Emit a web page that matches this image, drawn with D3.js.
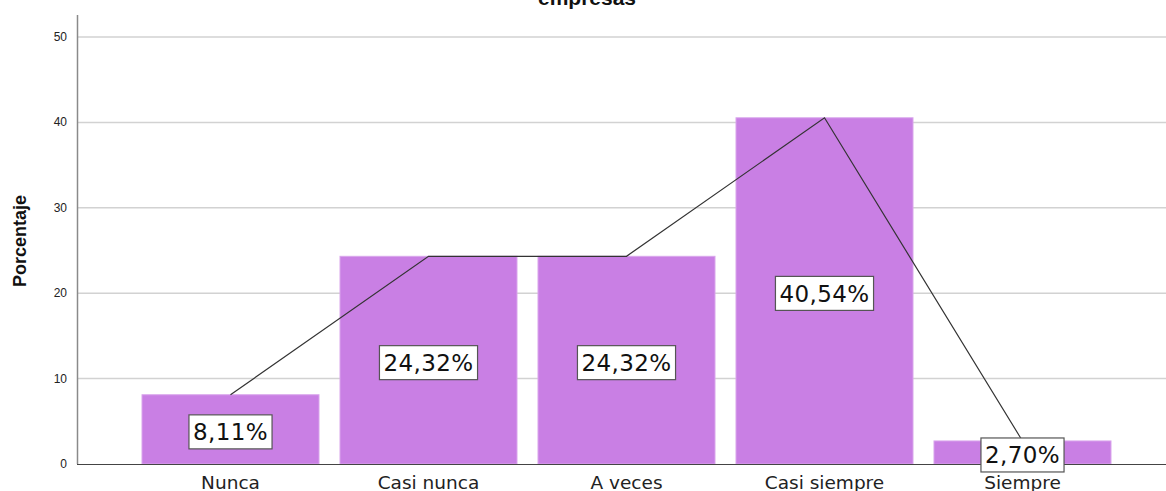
<!DOCTYPE html>
<html>
<head>
<meta charset="utf-8">
<script src="https://cdn.jsdelivr.net/npm/d3@7"></script>
<style>
  body { margin: 0; background: #fff; }
  svg { display: block; font-family: "Liberation Sans", Arial, sans-serif; }
</style>
</head>
<body>
<svg></svg>
<script>
const categories = ["Nunca", "Casi nunca", "A veces", "Casi siempre", "Siempre"];
const percents = [8.11, 24.32, 24.32, 40.54, 2.70];
const valueLabels = ["8,11%", "24,32%", "24,32%", "40,54%", "2,70%"];
const yTicks = [0, 10, 20, 30, 40, 50];

const width = 1166;
const height = 491;

const svg = d3.select("svg")
  .attr("width", width)
  .attr("height", height);

const x = d3.scaleBand()
  .domain(categories)
  .range([92.5, 1160.5])
  .paddingInner(0.106)
  .paddingOuter(0.25);

const y = d3.scaleLinear()
  .domain([0, 50])
  .range([464, 37]);

// gridlines
svg.append("g")
  .selectAll("line")
  .data(yTicks.filter(d => d > 0))
  .join("line")
  .attr("x1", 78)
  .attr("x2", width)
  .attr("y1", d => y(d))
  .attr("y2", d => y(d))
  .attr("stroke", "#d2d2d2")
  .attr("stroke-width", 1.5);

// y tick labels
svg.append("g")
  .selectAll("text")
  .data(yTicks)
  .join("text")
  .attr("x", 67)
  .attr("y", d => y(d) + 4)
  .attr("text-anchor", "end")
  .attr("font-size", 12)
  .attr("fill", "#222")
  .text(d => d);

// y axis line
svg.append("line")
  .attr("x1", 77.5).attr("x2", 77.5)
  .attr("y1", 15).attr("y2", 464)
  .attr("stroke", "#8a8a8a")
  .attr("stroke-width", 1.5);

// bars
svg.append("g")
  .selectAll("rect")
  .data(percents)
  .join("rect")
  .attr("x", (d, i) => x(categories[i]))
  .attr("y", d => y(d))
  .attr("width", x.bandwidth())
  .attr("height", d => y(0) - y(d))
  .attr("fill", "#c97fe4")
  .attr("stroke", "#d9a6ec")
  .attr("stroke-width", 1);

// x axis line
svg.append("line")
  .attr("x1", 77).attr("x2", width)
  .attr("y1", 464.5).attr("y2", 464.5)
  .attr("stroke", "#444")
  .attr("stroke-width", 1);

// polygon line through bar tops
const line = d3.line()
  .x((d, i) => x(categories[i]) + x.bandwidth() / 2)
  .y(d => y(d));

svg.append("path")
  .datum(percents)
  .attr("d", line)
  .attr("fill", "none")
  .attr("stroke", "#333")
  .attr("stroke-width", 1.2);

// value labels
const labels = svg.append("g")
  .selectAll("g")
  .data(percents)
  .join("g")
  .attr("transform", (d, i) =>
    `translate(${x(categories[i]) + x.bandwidth() / 2}, ${(y(d) + y(0)) / 2 + 2.5})`);

labels.append("text")
  .attr("text-anchor", "middle")
  .attr("dy", "0.36em")
  .attr("font-family", "'DejaVu Sans', Verdana, sans-serif")
  .attr("font-size", 23)
  .attr("letter-spacing", 0.4)
  .attr("fill", "#111")
  .text((d, i) => valueLabels[i]);

labels.each(function() {
  const g = d3.select(this);
  const bb = g.select("text").node().getBBox();
  g.insert("rect", "text")
    .attr("x", bb.x - 4)
    .attr("y", -17)
    .attr("width", bb.width + 8)
    .attr("height", 34)
    .attr("fill", "#fff")
    .attr("stroke", "#555")
    .attr("stroke-width", 1.2);
});

// x labels
svg.append("g")
  .selectAll("text")
  .data(categories)
  .join("text")
  .attr("x", d => x(d) + x.bandwidth() / 2)
  .attr("y", 489)
  .attr("text-anchor", "middle")
  .attr("font-family", "'DejaVu Sans', Verdana, sans-serif")
  .attr("font-size", 18.5)
  .attr("fill", "#222")
  .text(d => d);

// y axis title
svg.append("text")
  .attr("transform", "translate(26, 241) rotate(-90)")
  .attr("text-anchor", "middle")
  .attr("font-size", 18)
  .attr("font-weight", "bold")
  .attr("fill", "#111")
  .text("Porcentaje");

// title (cut at top)
svg.append("text")
  .attr("x", 587)
  .attr("y", 5)
  .attr("text-anchor", "middle")
  .attr("font-size", 21)
  .attr("font-weight", "bold")
  .attr("fill", "#111")
  .text("empresas");
</script>
</body>
</html>
